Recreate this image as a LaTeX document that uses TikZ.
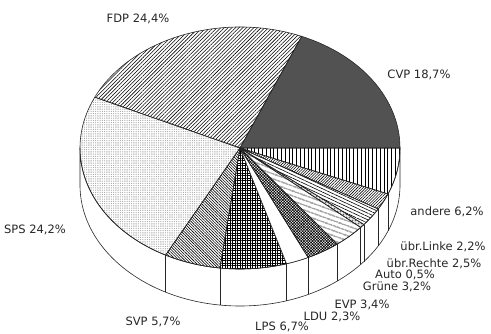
\documentclass[tikz,border=0pt]{standalone}
\usepackage{fontspec}
\setmainfont{DejaVu Sans}
\usetikzlibrary{patterns.meta}

\begin{document}
\begin{tikzpicture}[x=1pt,y=1pt,line width=.6pt,draw=black!85,
  party label/.style={font=\fontsize{11.5}{13}\selectfont,text=black!85,inner sep=0pt},
  cvp/.style={fill=black!68},
  fdp/.style={pattern={Lines[angle=45,distance=2.6pt,line width=.55pt]}},
  sps/.style={pattern={Dots[distance=1.8pt,radius=.32pt]},pattern color=black!75},
  svp/.style={pattern={Lines[angle=-45,distance=2pt,line width=.6pt]}},
  lps/.style={pattern={Hatch[angle=0,distance=2.5pt,line width=.5pt]}},
  ldu/.style={fill=white},
  evp/.style={pattern={Hatch[angle=45,distance=2pt,line width=.6pt]}},
  gruene/.style={pattern={Lines[angle=-20,distance=4pt,line width=.6pt]}},
  auto/.style={pattern={Dots[distance=1.5pt,radius=.35pt]}},
  rechte/.style={pattern={Lines[angle=-25,distance=3pt,line width=.6pt]}},
  linke/.style={pattern={Lines[angle=45,distance=2pt,line width=.55pt]}},
  andere/.style={pattern={Lines[angle=90,distance=3.8pt,line width=.6pt]}}]

  \useasboundingbox (0,0) rectangle (491,333);
  \coordinate (c) at (240,185);

  % side wall
  \filldraw[fill=white] ([shift={(180:160pt and 121pt)}]c)
    arc[start angle=180,end angle=360,x radius=160pt,y radius=121pt] -- ++(0,-37)
    arc[start angle=360,end angle=180,x radius=160pt,y radius=121pt] -- cycle;
  \foreach \a in {242.28,262.8,286.92,295.2,307.44,318.96,320.76,329.76,337.68}
    \draw ([shift={(\a:160pt and 121pt)}]c) -- ++(0,-37);

  % top of the pie
  \foreach \from/\to/\pat in {0/67.32/cvp,67.32/155.16/fdp,155.16/242.28/sps,
      242.28/262.8/svp,262.8/286.92/lps,286.92/295.2/ldu,295.2/307.44/evp,
      307.44/318.96/gruene,318.96/320.76/auto,320.76/329.76/rechte,
      329.76/337.68/linke,337.68/360/andere}
    \filldraw[\pat] (c) -- ([shift={(\from:160pt and 121pt)}]c)
      arc[start angle=\from,end angle=\to,x radius=160pt,y radius=121pt] -- cycle;

  \node[party label] (fdp) at (138,314) {FDP 24,4\%};
  \node[party label] (cvp) at (419,258) {CVP 18,7\%};
  \node[party label] (andere) at (447,121) {andere 6,2\%};
  \node[party label] (linke) at (443,86) {übr.Linke 2,2\%};
  \node[party label] (rechte) at (434,69) {übr.Rechte 2,5\%};
  \node[party label] (auto) at (405,58) {Auto 0,5\%};
  \node[party label] (gruene) at (397,46) {Grüne 3,2\%};
  \node[party label] (evp) at (362,28) {EVP 3,4\%};
  \node[party label] (ldu) at (332,16) {LDU 2,3\%};
  \node[party label] (lps) at (282,6) {LPS 6,7\%};
  \node[party label] (svp) at (153,11) {SVP 5,7\%};
  \node[party label] (sps) at (35,103) {SPS 24,2\%};

\end{tikzpicture}
\end{document}
